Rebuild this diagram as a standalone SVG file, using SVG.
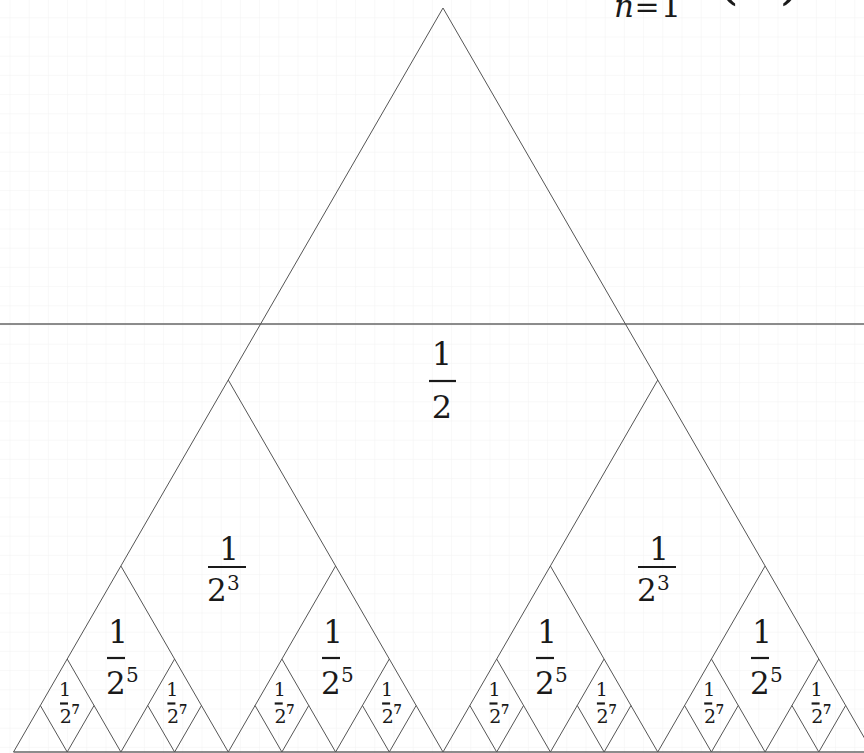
<svg xmlns="http://www.w3.org/2000/svg" width="864" height="753" viewBox="0 0 864 753">
<defs>
<style>
.ln{stroke:#555;stroke-width:1;fill:none}
.hl{stroke:#666;stroke-width:1.6;fill:none}
.bar{stroke:#1a1a1a;stroke-width:2.2}
.t{font-family:"DejaVu Serif","Liberation Serif",serif;fill:#1a1a1a}
.l1{font-size:32px}
.l2{font-size:31px}
.s2{font-size:20px}
.l4{font-size:19px}
.s4{font-size:12px;font-weight:bold}
</style>
<pattern id="grid" patternUnits="userSpaceOnUse" x="9.5" y="17.3" width="19.2" height="19.2">
<path d="M0 0V19.2M0 0H19.2" stroke="#f2f2f2" stroke-width="1" fill="none"/>
</pattern>
</defs>
<rect width="864" height="753" fill="#fff"/>
<rect width="864" height="753" fill="url(#grid)"/>
<g id="formula" class="t">
<text x="614" y="17" font-size="31" font-style="italic">n</text>
<text x="647" y="17" font-size="30" text-anchor="middle">=</text>
<text x="671" y="17" font-size="32" text-anchor="middle">1</text>
<text x="716" y="-3" font-size="60">(</text>
<text x="779" y="-3" font-size="60">)</text>
</g>
<g id="connectors">
<line class="hl" x1="0" y1="324" x2="864" y2="324"/>
<line class="hl" x1="13.5" y1="752" x2="864" y2="752"/>
<path class="ln" d="M13.5 752L443 8L872.5 752"/>
<path class="ln" d="M228.25 380L443 752L657.75 380"/>
<path class="ln" d="M120.9 566L228.25 752L335.6 566M550.4 566L657.75 752L765.1 566"/>
<path class="ln" d="M67.2 659L120.9 752L174.6 659M281.9 659L335.6 752L389.3 659M496.7 659L550.4 752L604.1 659M711.4 659L765.1 752L818.8 659"/>
<path class="ln" d="M40.35 705.5L67.2 752L94.05 705.5M147.75 705.5L174.6 752L201.45 705.5M255.05 705.5L281.9 752L308.75 705.5M362.45 705.5L389.3 752L416.15 705.5M469.85 705.5L496.7 752L523.55 705.5M577.25 705.5L604.1 752L630.95 705.5M684.55 705.5L711.4 752L738.25 705.5M791.95 705.5L818.8 752L845.65 705.5"/>
</g>
<g id="half" class="t l1">
<text x="442" y="365" text-anchor="middle">1</text>
<line class="bar" x1="429" y1="381" x2="456" y2="381"/>
<text x="442" y="418" text-anchor="middle">2</text>
</g>
<g id="l2a" class="t l2">
<text x="229" y="560" text-anchor="middle">1</text>
<line class="bar" x1="208" y1="567" x2="246" y2="567"/>
<text x="207" y="601">2</text>
<text x="227" y="590" class="s2">3</text>
</g>
<g id="l2b" class="t l2">
<text x="659" y="560" text-anchor="middle">1</text>
<line class="bar" x1="638" y1="567" x2="676" y2="567"/>
<text x="637" y="601">2</text>
<text x="657" y="590" class="s2">3</text>
</g>
<g id="l3a" class="t l2">
<text x="118" y="643" text-anchor="middle">1</text>
<line class="bar" x1="107" y1="658" x2="125" y2="658"/>
<text x="106" y="694">2</text>
<text x="126" y="682" class="s2">5</text>
</g>
<g id="l3b" class="t l2">
<text x="333" y="643" text-anchor="middle">1</text>
<line class="bar" x1="322" y1="658" x2="340" y2="658"/>
<text x="321" y="694">2</text>
<text x="341" y="682" class="s2">5</text>
</g>
<g id="l3c" class="t l2">
<text x="547" y="643" text-anchor="middle">1</text>
<line class="bar" x1="536" y1="658" x2="554" y2="658"/>
<text x="535" y="694">2</text>
<text x="555" y="682" class="s2">5</text>
</g>
<g id="l3d" class="t l2">
<text x="762" y="643" text-anchor="middle">1</text>
<line class="bar" x1="751" y1="658" x2="769" y2="658"/>
<text x="750" y="694">2</text>
<text x="770" y="682" class="s2">5</text>
</g>
<g id="l4" class="t l4">
<g id="l4a"><text x="65" y="696" text-anchor="middle">1</text><line class="bar" stroke-width="1.6" x1="60" y1="703.5" x2="68" y2="703.5"/><text x="59.7" y="723">2</text><text x="71.5" y="714" class="s4">7</text></g>
<g id="l4b"><text x="172.4" y="696" text-anchor="middle">1</text><line class="bar" stroke-width="1.6" x1="167.4" y1="703.5" x2="175.4" y2="703.5"/><text x="167.1" y="723">2</text><text x="178.9" y="714" class="s4">7</text></g>
<g id="l4c"><text x="279.7" y="696" text-anchor="middle">1</text><line class="bar" stroke-width="1.6" x1="274.7" y1="703.5" x2="282.7" y2="703.5"/><text x="274.4" y="723">2</text><text x="286.2" y="714" class="s4">7</text></g>
<g id="l4d"><text x="387.1" y="696" text-anchor="middle">1</text><line class="bar" stroke-width="1.6" x1="382.1" y1="703.5" x2="390.1" y2="703.5"/><text x="381.8" y="723">2</text><text x="393.6" y="714" class="s4">7</text></g>
<g id="l4e"><text x="494.5" y="696" text-anchor="middle">1</text><line class="bar" stroke-width="1.6" x1="489.5" y1="703.5" x2="497.5" y2="703.5"/><text x="489.2" y="723">2</text><text x="501" y="714" class="s4">7</text></g>
<g id="l4f"><text x="601.9" y="696" text-anchor="middle">1</text><line class="bar" stroke-width="1.6" x1="596.9" y1="703.5" x2="604.9" y2="703.5"/><text x="596.6" y="723">2</text><text x="608.4" y="714" class="s4">7</text></g>
<g id="l4g"><text x="709.2" y="696" text-anchor="middle">1</text><line class="bar" stroke-width="1.6" x1="704.2" y1="703.5" x2="712.2" y2="703.5"/><text x="703.9" y="723">2</text><text x="715.7" y="714" class="s4">7</text></g>
<g id="l4h"><text x="816.6" y="696" text-anchor="middle">1</text><line class="bar" stroke-width="1.6" x1="811.6" y1="703.5" x2="819.6" y2="703.5"/><text x="811.3" y="723">2</text><text x="823.1" y="714" class="s4">7</text></g>
</g>
</svg>
